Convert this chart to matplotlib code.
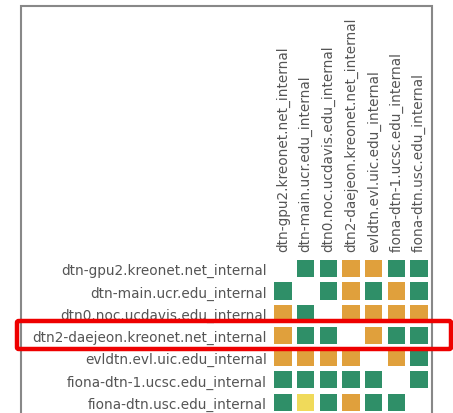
import numpy as np
import matplotlib
matplotlib.use("Agg")
import matplotlib.pyplot as plt
from matplotlib.patches import Rectangle, FancyBboxPatch

hosts = [
    "dtn-gpu2.kreonet.net_internal",
    "dtn-main.ucr.edu_internal",
    "dtn0.noc.ucdavis.edu_internal",
    "dtn2-daejeon.kreonet.net_internal",
    "evldtn.evl.uic.edu_internal",
    "fiona-dtn-1.ucsc.edu_internal",
    "fiona-dtn.usc.edu_internal",
]

# 0 = none, 1 = good (green), 2 = warning (orange), 3 = degraded (yellow)
status = [
    [0, 1, 1, 2, 2, 1, 1],
    [1, 0, 1, 2, 1, 2, 1],
    [2, 1, 0, 2, 2, 2, 2],
    [2, 1, 1, 0, 2, 1, 1],
    [2, 2, 2, 2, 0, 2, 1],
    [1, 1, 1, 1, 1, 0, 1],
    [1, 3, 1, 2, 1, 1, 0],
]

colors = {1: "#2f8f68", 2: "#e0a03c", 3: "#f0da5a"}
text_color = "#555555"

W, H = 453, 414
fig = plt.figure(figsize=(W / 100, H / 100), dpi=100)

# outer gray frame (cut off at bottom)
fig.add_artist(Rectangle((21 / W, -0.1), (432 - 21) / W, 1.1 - 7 / H,
                         transform=fig.transFigure, fill=False,
                         edgecolor="#888888", linewidth=1.5))

ax = fig.add_axes([271.5 / W, -0.2 / H, 159 / W, 155.5 / H])
n = len(hosts)
for i in range(n):
    for j in range(n):
        v = status[i][j]
        if v:
            ax.add_patch(Rectangle((j - 0.385, i - 0.385), 0.77, 0.77,
                                   facecolor=colors[v], edgecolor="none"))
ax.set_xlim(-0.5, n - 0.5)
ax.set_ylim(n - 0.5, -0.5)
ax.set_xticks(range(n))
ax.set_yticks(range(n))
ax.xaxis.tick_top()
ax.set_xticklabels(hosts, rotation=90, fontsize=9.8, color=text_color)
ax.set_yticklabels(hosts, fontsize=9.8, color=text_color)
ax.tick_params(axis="x", length=0, pad=5)
ax.tick_params(axis="y", length=0, pad=3.4)
for s in ax.spines.values():
    s.set_visible(False)

# highlight box around the dtn2-daejeon row
fig.add_artist(FancyBboxPatch((17 / W, (H - 350) / H), (451 - 17) / W, 28 / H,
                              boxstyle="round,pad=0,rounding_size=0.004",
                              transform=fig.transFigure, fill=False,
                              edgecolor="#ee0000", linewidth=3.2))

fig.savefig("out.png", dpi=100)
